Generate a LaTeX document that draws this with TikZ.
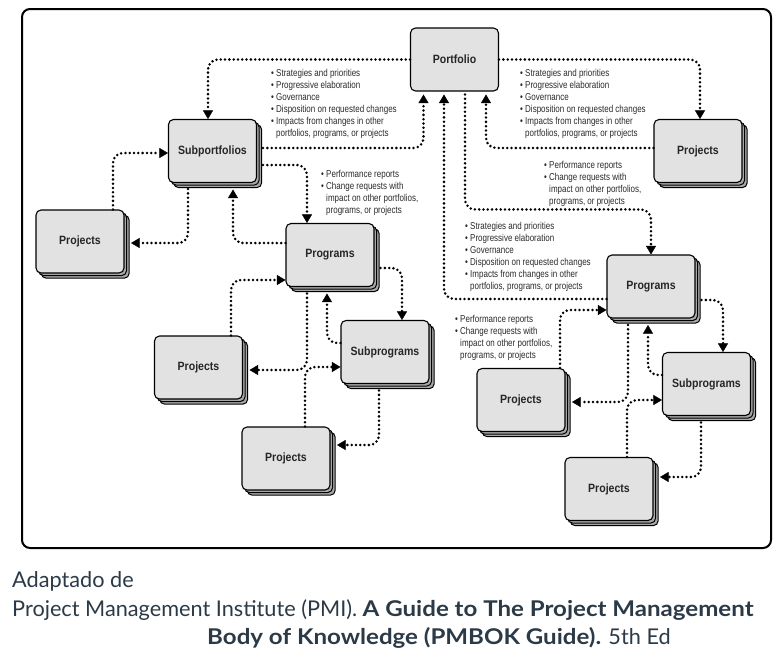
\documentclass[tikz,border=0pt]{standalone}
\usepackage{fontspec}
\setmainfont{Liberation Sans}
\newfontfamily\diagfont[FakeStretch=0.8]{Liberation Sans}
\newfontfamily\labfont[FakeStretch=0.88]{Liberation Sans}
\newfontfamily\capfont[BoldFeatures={FakeStretch=1.11}]{Lato}
\usetikzlibrary{arrows.meta,shadows,calc}
\definecolor{boxfill}{HTML}{E2E2E2}
\definecolor{stackfill}{HTML}{A8A8A8}
\definecolor{captxt}{HTML}{2B3A46}
\definecolor{notetxt}{HTML}{2A2A2A}
\begin{document}
\begin{tikzpicture}[x=1pt,y=-1pt,
  box/.style={draw=black,line width=1.1pt,fill=boxfill,rounded corners=5pt,minimum width=88pt,minimum height=63pt,inner sep=0pt,font=\labfont\fontsize{12}{14}\selectfont\bfseries,text=black!85},
  stackbox/.style={box,double copy shadow={shadow xshift=2.6pt,shadow yshift=-2.6pt,fill=stackfill,draw=black,line width=1pt}},
  conn/.style={line width=2.8pt,dash pattern=on 0pt off 4.3pt,line cap=round,rounded corners=10pt,-{Triangle[length=8.5pt,width=10pt,line width=0.4pt]}},
  note/.style={anchor=north west,inner sep=0pt,align=left,font=\diagfont\fontsize{10}{12}\selectfont,text=notetxt},
  captext/.style={anchor=base west,inner sep=0pt,font=\capfont\fontsize{21.7}{26}\selectfont,text=captxt}
]
\useasboundingbox (0,0) rectangle (777,664);
\draw[line width=2pt,rounded corners=8pt] (22,9) rectangle (771,548);

% boxes
\node[box] (port) at (454.5,59.5) {Portfolio};
\node[stackbox] (sub) at (212.5,151) {Subportfolios};
\node[stackbox] (projTR) at (698,151) {Projects};
\node[stackbox] (projL) at (80,241.5) {Projects};
\node[stackbox] (progL) at (330,255) {Programs};
\node[stackbox] (projML) at (198.5,367.5) {Projects};
\node[stackbox] (subprogL) at (385,352) {Subprograms};
\node[stackbox] (projBL) at (286,458.5) {Projects};
\node[stackbox] (progR) at (651,286.5) {Programs};
\node[stackbox] (projR) at (521,400) {Projects};
\node[stackbox] (subprogR) at (706.5,384) {Subprograms};
\node[stackbox] (projBR) at (609,489) {Projects};

% connectors
\draw[conn] (port.west) -| ($(sub.north)+(-4.5,0)$);
\draw[conn] ($(sub.east)+(6,-3)$) -| ($(port.south)+(-31,3)$);
\draw[conn] (port.east) -| ($(projTR.north)+(2,0)$);
\draw[conn] ($(projTR.west)+(0,-3)$) -| ($(port.south)+(31.5,3)$);
\draw[conn] ($(port.south)+(10.5,3)$) |- ($(progR.north)+(0,-45)$) -- (progR.north);
\draw[conn] ($(progR.west)+(0,12.5)$) -| ($(port.south)+(-10.5,3)$);
\draw[conn] ($(projL.north)+(33,0)$) |- ($(sub.west)+(0,2)$);
\draw[conn] ($(sub.south)+(-24.5,6)$) |- ($(projL.east)+(6.5,1.5)$);
\draw[conn] ($(progL.west)+(0,-12)$) -| ($(sub.south)+(20.5,6.5)$);
\draw[conn] ($(sub.east)+(6,14)$) -| ($(progL.north)+(-23,0)$);
\draw[conn] ($(projML.north)+(32.5,0)$) |- ($(progL.west)+(0,25)$);
\draw[conn] ($(progL.south)+(-23,6.5)$) |- ($(projML.east)+(6.5,2.5)$);
\draw[conn] ($(progL.east)+(6,13)$) -| ($(subprogL.north)+(17,0)$);
\draw[conn] ($(subprogL.west)+(0,-9)$) -| ($(progL.south)+(-3,6.5)$);
\draw[conn] ($(projBL.north)+(19,0)$) |- ($(subprogL.west)+(0,15)$);
\draw[conn] ($(subprogL.south)+(-6,6.5)$) |- ($(projBL.east)+(6.5,-13.5)$);
\draw[conn] ($(projR.north)+(39,0)$) |- ($(progR.west)+(0,23.5)$);
\draw[conn] ($(progR.south)+(-23,6.5)$) |- ($(projR.east)+(6.5,2)$);
\draw[conn] ($(progR.east)+(6,13.5)$) -| ($(subprogR.north)+(16.5,0)$);
\draw[conn] ($(subprogR.west)+(0,-9)$) -| ($(progR.south)+(-3,6.5)$);
\draw[conn] ($(projBR.north)+(18,0)$) |- ($(subprogR.west)+(0,16)$);
\draw[conn] ($(subprogR.south)+(-5.5,6.5)$) |- ($(projBR.east)+(6.5,-12)$);

% notes
\node[note] (t1) at (271,69) {\textbullet\ Strategies and priorities\\\textbullet\ Progressive elaboration\\\textbullet\ Governance\\\textbullet\ Disposition on requested changes\\\textbullet\ Impacts from changes in other\\\hphantom{\textbullet\ }portfolios, programs, or projects};
\node[note] (t2) at (520,69) {\textbullet\ Strategies and priorities\\\textbullet\ Progressive elaboration\\\textbullet\ Governance\\\textbullet\ Disposition on requested changes\\\textbullet\ Impacts from changes in other\\\hphantom{\textbullet\ }portfolios, programs, or projects};
\node[note] (t3) at (321,170) {\textbullet\ Performance reports\\\textbullet\ Change requests with\\\hphantom{\textbullet\ }impact on other portfolios,\\\hphantom{\textbullet\ }programs, or projects};
\node[note] (t4) at (544,161) {\textbullet\ Performance reports\\\textbullet\ Change requests with\\\hphantom{\textbullet\ }impact on other portfolios,\\\hphantom{\textbullet\ }programs, or projects};
\node[note] (t5) at (465,222) {\textbullet\ Strategies and priorities\\\textbullet\ Progressive elaboration\\\textbullet\ Governance\\\textbullet\ Disposition on requested changes\\\textbullet\ Impacts from changes in other\\\hphantom{\textbullet\ }portfolios, programs, or projects};
\node[note] (t6) at (455,315) {\textbullet\ Performance reports\\\textbullet\ Change requests with\\\hphantom{\textbullet\ }impact on other portfolios,\\\hphantom{\textbullet\ }programs, or projects};

% caption
\node[captext] (cap1) at (12,587) {Adaptado de};
\node[captext] (cap2) at (12,616) {Project Management Institute (PMI). \textbf{A Guide to The Project Management}};
\node[captext] (cap3) at (207,644) {\textbf{Body of Knowledge (PMBOK Guide).} 5th Ed};
\end{tikzpicture}
\end{document}
